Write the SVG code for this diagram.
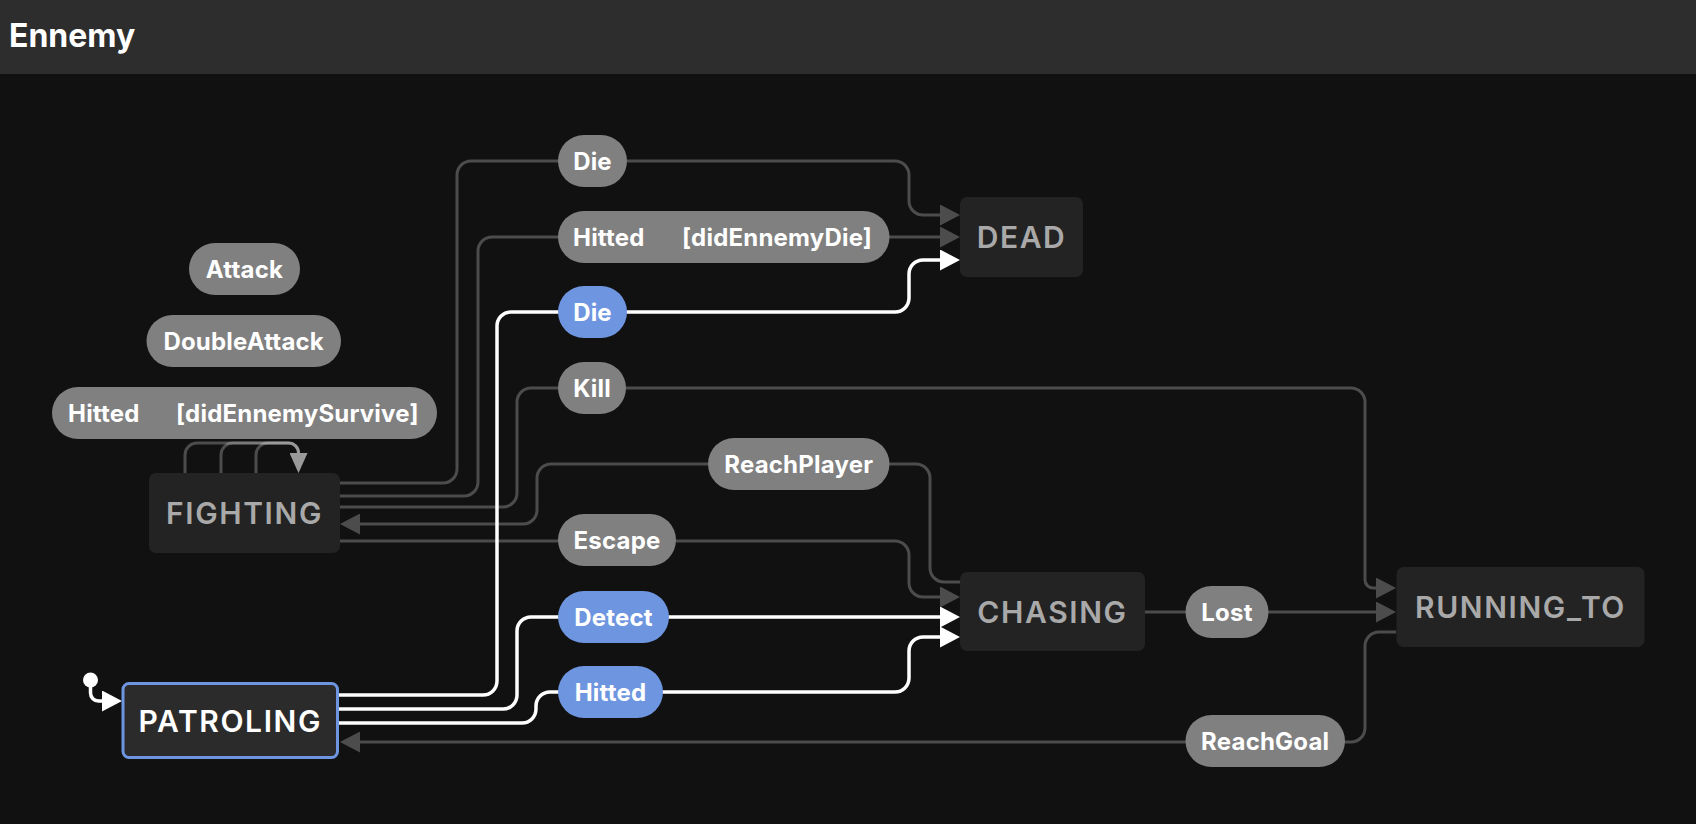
<svg xmlns="http://www.w3.org/2000/svg" width="1696" height="824" viewBox="0 0 1696 824">
<style>
.bg{fill:#111111}
.bar{fill:#2d2d2d}
.title{font-family:Inter,"Liberation Sans",sans-serif;font-weight:700;font-size:32px;fill:#ffffff}
.state{fill:#232323}
.stext{font-family:Inter,"Liberation Sans",sans-serif;font-weight:600;font-size:30px;fill:#a9a9a9;text-anchor:middle;letter-spacing:1.6px}
.active{fill:#2b2b2b;stroke:#6e96e0;stroke-width:3}
.atext{fill:#ffffff}
.pill{fill:#808080}
.pillb{fill:#6e96e0}
.ptext{font-family:Inter,"Liberation Sans",sans-serif;font-weight:700;font-size:24px;fill:#ffffff;letter-spacing:0.2px}
.mid{text-anchor:middle}
.g{fill:none;stroke:#ffffff;stroke-opacity:0.25;stroke-width:3}
.w{fill:none;stroke:#ffffff;stroke-width:3.5}
</style>
<defs>
<marker id="ag" markerUnits="userSpaceOnUse" viewBox="0 0 20 21" refX="0" refY="10.5" markerWidth="20" markerHeight="21" orient="auto"><path d="M0,0 L20,10.5 L0,21 Z" fill="#ffffff" fill-opacity="0.25"/></marker>
<marker id="aw" markerUnits="userSpaceOnUse" viewBox="0 0 20 21" refX="0" refY="10.5" markerWidth="20" markerHeight="21" orient="auto"><path d="M0,0 L20,10.5 L0,21 Z" fill="#ffffff"/></marker>
<marker id="al" markerUnits="userSpaceOnUse" viewBox="0 0 20 18" refX="0" refY="9" markerWidth="20" markerHeight="18" orient="auto"><path d="M0,0 L20,9 L0,18 Z" fill="#ffffff" fill-opacity="0.25"/></marker>
</defs>
<rect class="bg" x="0" y="0" width="1696" height="824"/>
<rect class="bar" x="0" y="0" width="1696" height="74"/>
<text class="title" x="9" y="47">Ennemy</text>

<g id="connectors">
<path class="g" d="M340,483 H443 A14,14 0 0 0 457,469 V175 A14,14 0 0 1 471,161 H895 A14,14 0 0 1 909,175 V201 A14,14 0 0 0 923,215 H940" marker-end="url(#ag)"/>
<path class="g" d="M340,496 H464 A14,14 0 0 0 478,482 V251 A14,14 0 0 1 492,237 H940" marker-end="url(#ag)"/>
<path class="g" d="M340,507 H503 A14,14 0 0 0 517,493 V402 A14,14 0 0 1 531,388 H1351 A14,14 0 0 1 1365,402 V580 A8,8 0 0 0 1373,588 H1376" marker-end="url(#ag)"/>
<path class="g" d="M960,582 H944 A14,14 0 0 1 930,568 V478 A14,14 0 0 0 916,464 H551 A14,14 0 0 0 537,478 V510 A14,14 0 0 1 523,524 H360" marker-end="url(#ag)"/>
<path class="g" d="M340,541 H895 A14,14 0 0 1 909,555 V583 A14,14 0 0 0 923,597 H940" marker-end="url(#ag)"/>
<path class="g" d="M1145,612 H1376" marker-end="url(#ag)"/>
<path class="g" d="M1396,632 H1379 A14,14 0 0 0 1365,646 V728 A14,14 0 0 1 1351,742 H360" marker-end="url(#ag)"/>
<path class="g" d="M185,473 V455 A12,12 0 0 1 197,443 H288.5 A10,10 0 0 1 298.5,453" marker-end="url(#al)"/>
<path class="g" d="M221,473 V455 A12,12 0 0 1 233,443 H288.5 A10,10 0 0 1 298.5,453" marker-end="url(#al)"/>
<path class="g" d="M256,473 V455 A12,12 0 0 1 268,443 H288.5 A10,10 0 0 1 298.5,453" marker-end="url(#al)"/>
<path class="w" d="M339,695 H483 A14,14 0 0 0 497,681 V326 A14,14 0 0 1 511,312 H895 A14,14 0 0 0 909,298 V274 A14,14 0 0 1 923,260 H940" marker-end="url(#aw)"/>
<path class="w" d="M339,709 H503 A14,14 0 0 0 517,695 V631 A14,14 0 0 1 531,617 H940" marker-end="url(#aw)"/>
<path class="w" d="M339,723 H522 A14,14 0 0 0 536,709 V706 A14,14 0 0 1 550,692 H895 A14,14 0 0 0 909,678 V651 A14,14 0 0 1 923,637 H940" marker-end="url(#aw)"/>
<path class="w" d="M90.5,680 V693 A8,8 0 0 0 98.5,701 H102" marker-end="url(#aw)"/>
<circle cx="90.5" cy="680" r="7.5" fill="#ffffff"/>
</g>

<g id="labels">
<g id="lbl-attack"><rect class="pill" x="189" y="243" width="111" height="52" rx="26"/><text class="ptext mid" x="244.5" y="278">Attack</text></g>
<g id="lbl-doubleattack"><rect class="pill" x="146.5" y="315" width="194.5" height="52" rx="26"/><text class="ptext mid" x="243.7" y="350">DoubleAttack</text></g>
<g id="lbl-hitted-survive"><rect class="pill" x="52" y="387" width="385" height="52" rx="26"/><text class="ptext" x="68" y="422">Hitted</text><text class="ptext" x="176" y="422">[didEnnemySurvive]</text></g>
<g id="lbl-die-gray"><rect class="pill" x="558" y="135" width="69" height="52" rx="26"/><text class="ptext mid" x="592.5" y="170">Die</text></g>
<g id="lbl-hitted-die"><rect class="pill" x="558" y="211" width="331.5" height="52" rx="26"/><text class="ptext" x="573" y="246">Hitted</text><text class="ptext" x="682" y="246">[didEnnemyDie]</text></g>
<g id="lbl-die-blue"><rect class="pillb" x="558" y="286" width="69" height="52" rx="26"/><text class="ptext mid" x="592.5" y="321">Die</text></g>
<g id="lbl-kill"><rect class="pill" x="558" y="362" width="68" height="52" rx="26"/><text class="ptext mid" x="592" y="397">Kill</text></g>
<g id="lbl-reachplayer"><rect class="pill" x="708" y="438" width="181.5" height="52" rx="26"/><text class="ptext mid" x="798.7" y="473">ReachPlayer</text></g>
<g id="lbl-escape"><rect class="pill" x="558" y="514" width="118" height="52" rx="26"/><text class="ptext mid" x="617" y="549">Escape</text></g>
<g id="lbl-detect"><rect class="pillb" x="558" y="591" width="111" height="52" rx="26"/><text class="ptext mid" x="613.5" y="626">Detect</text></g>
<g id="lbl-hitted-blue"><rect class="pillb" x="558" y="666" width="105" height="52" rx="26"/><text class="ptext mid" x="610.5" y="701">Hitted</text></g>
<g id="lbl-lost"><rect class="pill" x="1185.5" y="586" width="83" height="52" rx="26"/><text class="ptext mid" x="1227" y="621">Lost</text></g>
<g id="lbl-reachgoal"><rect class="pill" x="1185.5" y="715" width="159.5" height="52" rx="26"/><text class="ptext mid" x="1265.2" y="750">ReachGoal</text></g>
</g>

<g id="node-dead"><rect class="state" x="960" y="197" width="123" height="80" rx="7"/><text class="stext" x="1021.5" y="248">DEAD</text></g>
<g id="node-fighting"><rect class="state" x="149" y="473" width="191" height="80" rx="7"/><text class="stext" x="244.5" y="524">FIGHTING</text></g>
<g id="node-chasing"><rect class="state" x="960" y="572" width="185" height="79" rx="7"/><text class="stext" x="1052.5" y="623">CHASING</text></g>
<g id="node-running"><rect class="state" x="1396.5" y="567" width="248" height="80" rx="7"/><text class="stext" x="1520.5" y="618">RUNNING_TO</text></g>
<g id="node-patroling"><rect class="active" x="123" y="683.5" width="214.5" height="74" rx="6"/><text class="stext atext" x="230.3" y="731.5">PATROLING</text></g>
</svg>
